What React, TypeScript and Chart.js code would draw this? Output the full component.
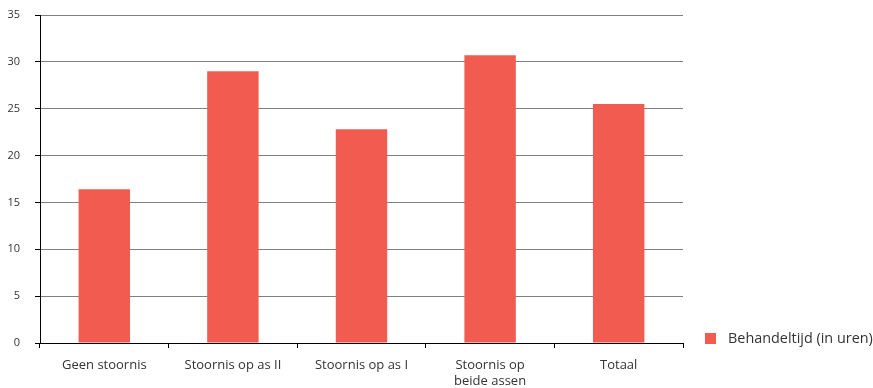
import React, { useEffect, useRef } from "react";
import { Chart, registerables } from "chart.js";

Chart.register(...registerables);

const categories: (string | string[])[] = [
  "Geen stoornis",
  "Stoornis op as II",
  "Stoornis op as I",
  ["Stoornis op", "beide assen"],
  "Totaal",
];
const seriesLabel = "Behandeltijd (in uren)";
const values = [16.4, 29.0, 22.8, 30.7, 25.5];
const yMin = 0;
const yMax = 35;
const yStep = 5;

const FONT = "'Open Sans', 'Noto Sans', sans-serif";
const BAR_COLOR = "#F15B50";

const sideLegend = {
  id: "sideLegend",
  afterDraw(chart: any) {
    const { ctx, chartArea } = chart;
    const ds = chart.data.datasets[0];
    const boxX = chartArea.right + 22;
    const cy = chartArea.bottom - 4.5;
    ctx.save();
    ctx.fillStyle = ds.backgroundColor;
    ctx.fillRect(boxX, cy - 5.5, 11, 11);
    ctx.fillStyle = "#333333";
    ctx.font = `14.4px ${FONT}`;
    ctx.textBaseline = "middle";
    ctx.textAlign = "left";
    ctx.fillText(ds.label, boxX + 23, cy);
    ctx.restore();
  },
};

export default function App() {
  const ref = useRef<HTMLCanvasElement | null>(null);

  useEffect(() => {
    if (!ref.current) return;
    const chart = new Chart(ref.current, {
      type: "bar",
      data: {
        labels: categories,
        datasets: [
          {
            label: seriesLabel,
            data: values,
            backgroundColor: BAR_COLOR,
            borderWidth: 0,
            barPercentage: 0.4,
            categoryPercentage: 1,
          },
        ],
      },
      options: {
        animation: false,
        responsive: false,
        maintainAspectRatio: false,
        layout: { padding: { top: 0, left: 0, right: 190, bottom: 0 } },
        plugins: {
          tooltip: { enabled: false },
          legend: { display: false },
        },
        scales: {
          x: {
            offset: true,
            border: { color: "#000000", width: 1 },
            grid: {
              offset: true,
              drawOnChartArea: true,
              drawTicks: true,
              tickLength: 5,
              color: (ctx: any) => (ctx.index === categories.length ? "#888888" : "rgba(0,0,0,0)"),
              tickColor: "#000000",
            },
            ticks: {
              color: "#333333",
              font: { family: FONT, size: 13, lineHeight: 1.25 },
              padding: 9,
              maxRotation: 0,
              autoSkip: false,
            },
            afterFit: (scale: any) => {
              scale.height = 45;
            },
          },
          y: {
            min: yMin,
            max: yMax,
            border: { color: "#000000", width: 1 },
            grid: {
              color: "#808080",
              tickColor: "#000000",
              tickLength: 5,
            },
            ticks: {
              stepSize: yStep,
              color: "#333333",
              font: { family: FONT, size: 11 },
              padding: 15,
            },
            afterFit: (scale: any) => {
              scale.width = 40;
              scale.paddingTop = 15;
            },
          },
        },
      },
      plugins: [sideLegend],
    });
    return () => chart.destroy();
  }, []);

  return (
    <div style={{ position: "fixed", left: 0, top: 0, width: 873, height: 388, background: "#fff" }}>
      <canvas ref={ref} width={873} height={388} />
    </div>
  );
}
